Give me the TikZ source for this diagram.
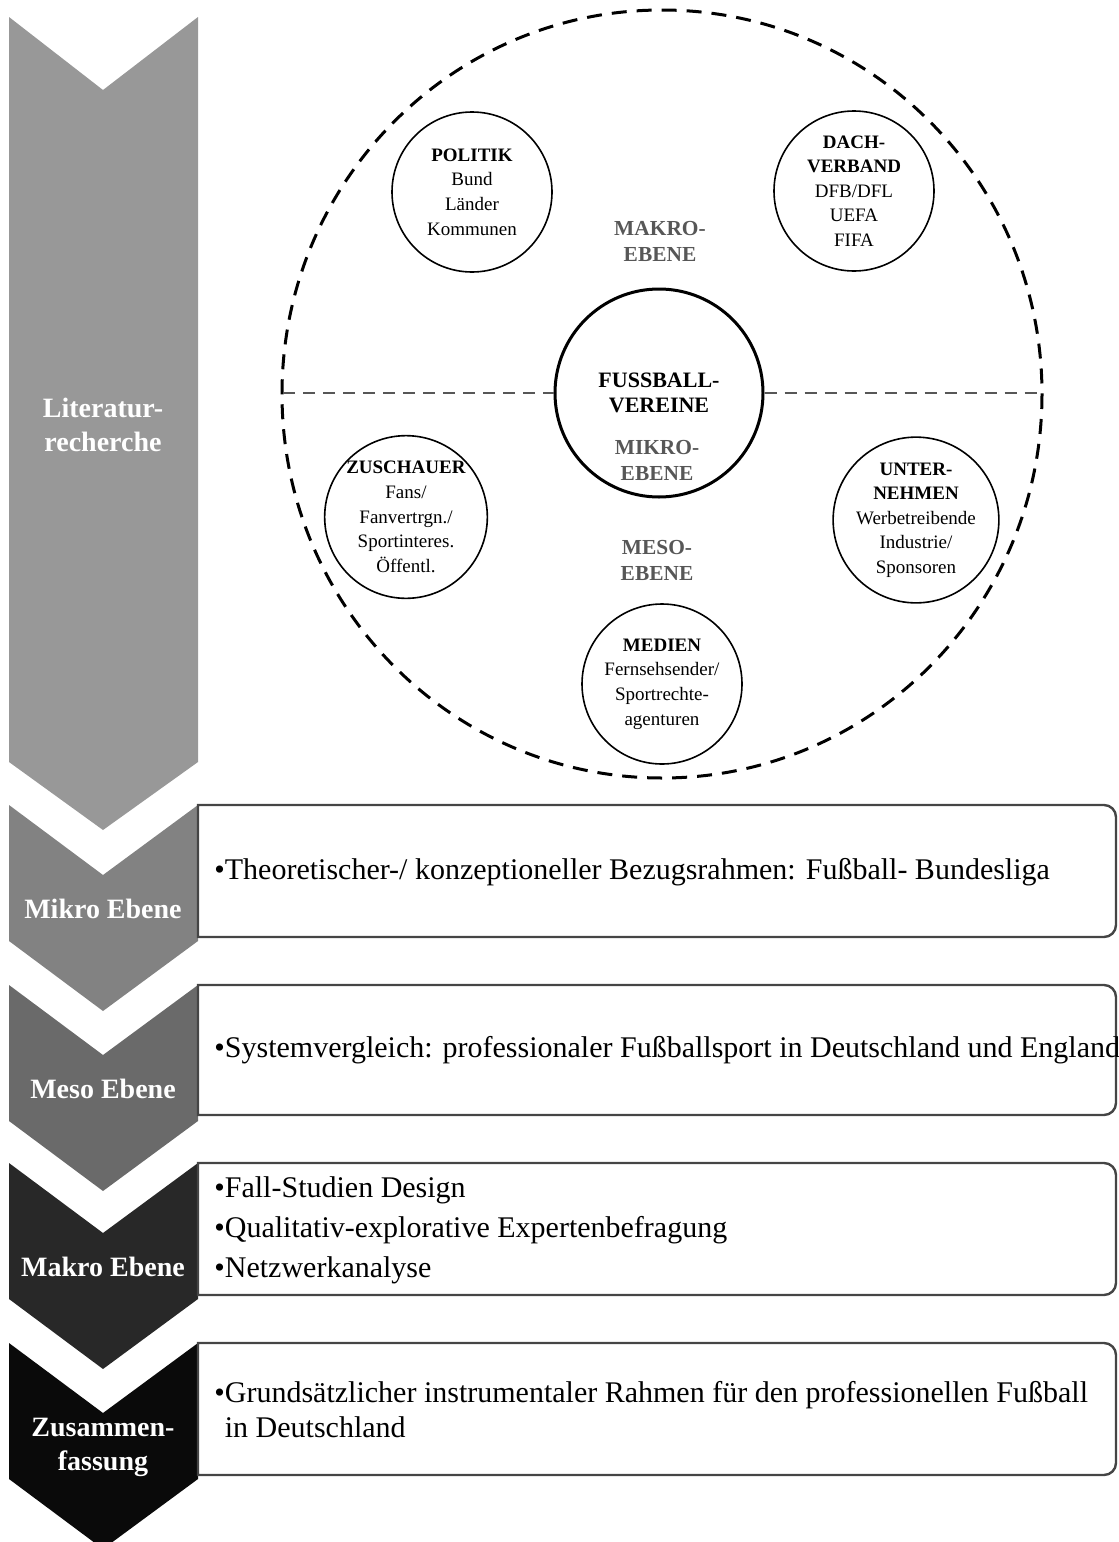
\documentclass[tikz,border=0pt]{standalone}
\usepackage{fontspec}
\setmainfont{Liberation Serif}
\usetikzlibrary{positioning}

\definecolor{chevA}{HTML}{989898}
\definecolor{chevB}{HTML}{828282}
\definecolor{chevC}{HTML}{6A6A6A}
\definecolor{chevD}{HTML}{282828}
\definecolor{chevE}{HTML}{0A0A0A}
\definecolor{ebenegray}{HTML}{575757}
\definecolor{boxgray}{HTML}{454545}

\begin{document}
\begin{tikzpicture}[x=0.5pt,y=-0.5pt,
		actor/.style={circle,draw,line width=0.8pt,minimum size=80pt,inner sep=0pt,align=center,font=\fontsize{9.5}{12.3}\selectfont},
		ebene/.style={align=center,text=ebenegray,font=\bfseries\fontsize{10.7}{13}\selectfont},
		chevtext/.style={text=white,align=center,font=\bfseries\fontsize{14}{17}\selectfont},
		boxline/.style={draw=boxgray,line width=1.2pt},
		boxtext/.style={anchor=west,align=left,inner sep=2pt,font=\fontsize{15}{17.5}\selectfont}]
	\useasboundingbox (0,0) rectangle (1119,1542);
	% chevrons
	\fill[chevA] (9,17) -- (103,90) -- (198,17) -- (198,762) -- (103,830) -- (9,762) -- cycle;
	\node[chevtext] (literatur) at (103,425) {Literatur-\\recherche};
	\foreach \yt/\farbe/\txt [count=\i] in {805/chevB/Mikro Ebene, 985/chevC/Meso Ebene, 1163/chevD/Makro Ebene, 1343/chevE/{Zusammen-\\fassung}}{
		\fill[\farbe] (9,\yt) -- (103,\yt+70) -- (198,\yt) -- (198,\yt+136) -- (103,\yt+206) -- (9,\yt+136) -- cycle;
		\node[chevtext] (chev\i) at (103,\yt+104) {\txt};
	}
	% boxes
	\foreach \yt/\yb in {805/937, 985/1115, 1163/1295, 1343/1475}{
		\draw[boxline] (198,\yb) -- (198,\yt) [rounded corners=6pt] -- (1116,\yt) -- (1116,\yb) [sharp corners] -- cycle;
	}
	\node[boxtext] (bezug) at (210,872) {\textbullet Theoretischer-/ konzeptioneller Bezugsrahmen: Fußball- Bundesliga};
	\node[boxtext] (system) at (210,1050) {\textbullet Systemvergleich: professionaler Fußballsport in Deutschland und England};
	\node[boxtext] (methode) at (210,1230) {\textbullet Fall-Studien Design\\[2.5pt]\textbullet Qualitativ-explorative Expertenbefragung\\[2.5pt]\textbullet Netzwerkanalyse};
	\node[boxtext] (rahmen) at (210,1410) {\textbullet Grundsätzlicher instrumentaler Rahmen für den professionellen Fußball\\\hphantom{\textbullet}in Deutschland};
	% umfeld
	\draw[line width=1.5pt,dash pattern=on 7.5pt off 5pt] (662,394) ellipse [x radius=380,y radius=384];
	\node[circle,draw,line width=1.5pt,minimum size=104pt,inner sep=0pt,align=center,font=\bfseries\fontsize{11}{12.5}\selectfont] (vereine) at (659,393) {FUSSBALL-\\VEREINE};
	\coordinate (links) at (283,393);
	\coordinate (rechts) at (1042,393);
	\draw[ebenegray,line width=1pt,dash pattern=on 6pt off 4pt] (links) -- (vereine.west);
	\draw[ebenegray,line width=1pt,dash pattern=on 6pt off 4pt] (vereine.east) -- (rechts);
	\node[ebene] (mikro) at (657,460) {MIKRO-\\EBENE};
	\node[ebene] (makro) at (660,241) {MAKRO-\\EBENE};
	\node[ebene] (meso) at (657,560) {MESO-\\EBENE};
	\node[actor] (politik) at (472,192) {\textbf{POLITIK}\\Bund\\Länder\\Kommunen};
	\node[actor] (dach) at (854,191) {\textbf{DACH-}\\\textbf{VERBAND}\\DFB/DFL\\UEFA\\FIFA};
	\node[actor] (zuschauer) at (406,517) {\textbf{ZUSCHAUER}\\Fans/\\Fanvertrgn./\\Sportinteres.\\Öffentl.};
	\node[actor] (unternehmen) at (916,520) {\textbf{UNTER-}\\\textbf{NEHMEN}\\Werbetreibende\\Industrie/\\Sponsoren};
	\node[actor] (medien) at (662,684) {\textbf{MEDIEN}\\Fernsehsender/\\Sportrechte-\\agenturen};
\end{tikzpicture}
\end{document}
